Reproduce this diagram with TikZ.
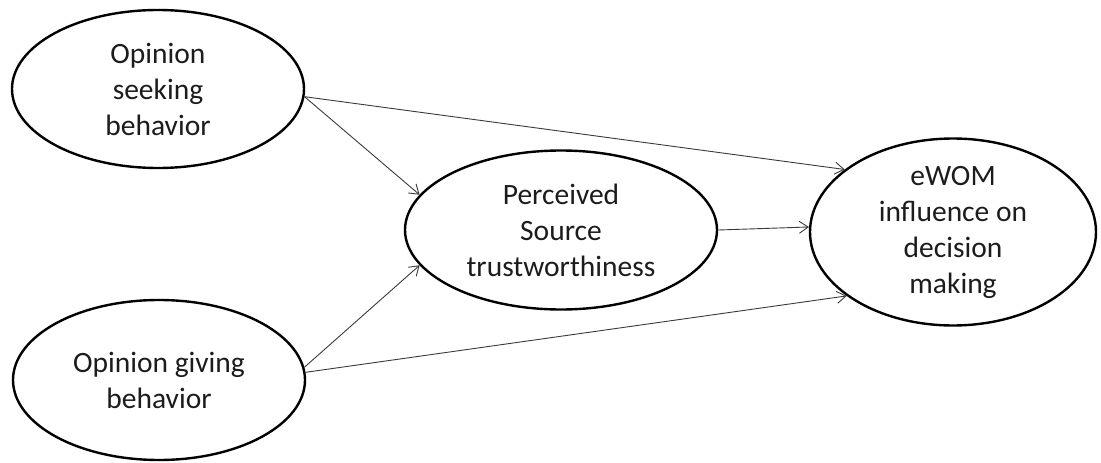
\documentclass[tikz,border=0pt]{standalone}
\usepackage{fontspec}
\setmainfont{Carlito}
\usetikzlibrary{shapes.geometric,arrows.meta}
\definecolor{txt}{HTML}{1C1C1C}
\definecolor{arr}{HTML}{3A3A3A}
\begin{document}
\begin{tikzpicture}[x=1pt,y=-1pt,
  construct/.style={ellipse,draw=black,line width=2.4pt,inner sep=0pt,align=center,
    text=txt,font=\fontsize{29.5}{36}\selectfont},
  link/.style={draw=arr,line width=0.9pt,-{Straight Barb[length=9pt,width=12pt,line width=0.9pt]}}]
\useasboundingbox (0,0) rectangle (1101,463);
\node[construct,minimum width=292pt,minimum height=158pt] (seek) at (158,89) {Opinion\\seeking\\behavior};
\node[construct,minimum width=292pt,minimum height=160pt] (give) at (159,380) {Opinion giving\\behavior};
\node[construct,minimum width=312pt,minimum height=159pt] (trust) at (561,230) {Perceived\\Source\\trustworthiness};
\node[construct,minimum width=286pt,minimum height=160pt] (ewom) at (953,232) {eWOM\\influence on\\decision\\making};
\draw[link] (seek.357) -- (ewom.150);
\draw[link] (seek.357) -- (trust.166);
\draw[link] (give.5) -- (trust.194);
\draw[link] (give.3) -- (ewom.211);
\draw[link] (trust.east) -- (ewom.178);
\end{tikzpicture}
\end{document}
